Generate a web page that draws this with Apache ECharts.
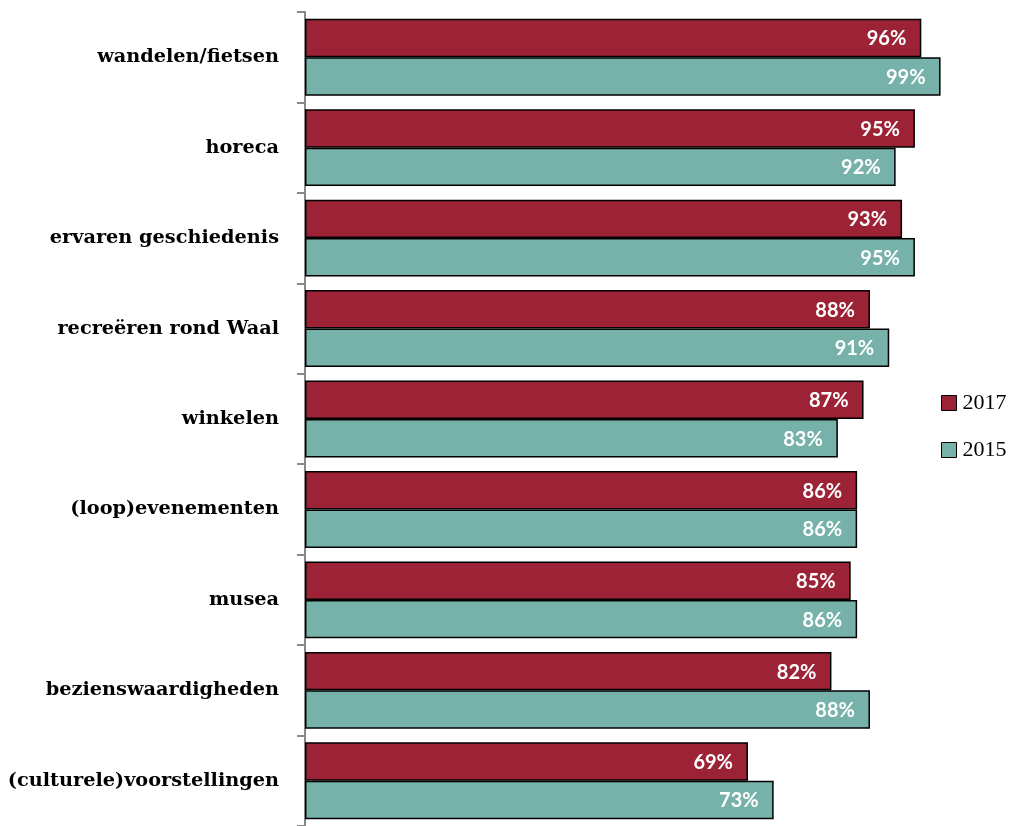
<!DOCTYPE html>
<html>
<head>
<meta charset="utf-8">
<script src="https://cdn.jsdelivr.net/npm/echarts@6/dist/echarts.min.js"></script>
<style>
  html, body { margin: 0; padding: 0; background: #fff; }
  #chart { width: 1013px; height: 826px; }
</style>
</head>
<body>
<div id="chart"></div>
<script>
// Activities, top to bottom
const categories = [
  'wandelen/fietsen',
  'horeca',
  'ervaren geschiedenis',
  'recreëren rond Waal',
  'winkelen',
  '(loop)evenementen',
  'musea',
  'bezienswaardigheden',
  '(culturele)voorstellingen'
];
const seriesNames = ['2017', '2015'];
const values2017 = [96, 95, 93, 88, 87, 86, 85, 82, 69];
const values2015 = [99, 92, 95, 91, 83, 86, 86, 88, 73];

const colors = { '2017': '#9C2236', '2015': '#77B2AA' };

const chart = echarts.init(document.getElementById('chart'), null, { renderer: 'canvas' });

function barSeries(name, data) {
  return {
    name: name,
    type: 'bar',
    data: data,
    barCategoryGap: '15%',
    barGap: '0%',
    itemStyle: { color: colors[name], borderColor: '#000', borderWidth: 1.5 },
    label: {
      show: true,
      position: 'insideRight',
      offset: [-10, 1],
      formatter: p => p.value + '%',
      color: '#fff',
      fontFamily: 'Lato',
      fontWeight: 'bold',
      fontSize: 20
    }
  };
}

chart.setOption({
  animation: false,
  grid: { left: 305, right: 66, top: 12, bottom: 0, containLabel: false },
  legend: {
    orient: 'vertical',
    left: 941,
    top: 392,
    padding: 0,
    itemWidth: 15,
    itemHeight: 15,
    itemGap: 25,
    icon: 'rect',
    data: seriesNames.map(n => ({ name: n, itemStyle: { borderColor: '#000', borderWidth: 1 } })),
    textStyle: { fontFamily: 'Liberation Serif', fontSize: 22, color: '#000', padding: [0, 0, 0, 1] }
  },
  xAxis: {
    type: 'value',
    min: 0,
    max: 100,
    show: false
  },
  yAxis: {
    type: 'category',
    data: categories,
    inverse: true,
    axisLine: { show: true, lineStyle: { color: '#888', width: 2 } },
    axisTick: { show: true, length: 8, lineStyle: { color: '#888', width: 2 } },
    axisLabel: {
      margin: 26,
      fontFamily: 'DejaVu Serif',
      fontWeight: 'bold',
      fontSize: 19.3,
      color: '#000'
    }
  },
  series: [barSeries('2017', values2017), barSeries('2015', values2015)]
});
</script>
</body>
</html>
